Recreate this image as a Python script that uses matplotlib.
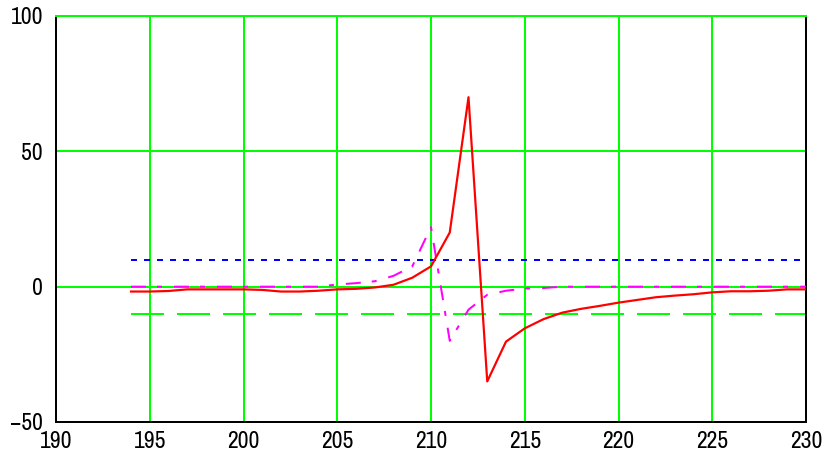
import matplotlib
matplotlib.use("Agg")
import matplotlib.pyplot as plt

plt.rcParams['font.family'] = ['Archivo Narrow', 'Liberation Sans', 'DejaVu Sans']
plt.rcParams['lines.scale_dashes'] = False

# Sample positions
x = list(range(194, 231))

# Response curve (red)
response = [-1.8, -1.8, -1.6, -1.0, -1.0, -1.0, -1.0, -1.2, -1.8, -1.8,
            -1.5, -1.0, -0.8, -0.3, 0.7, 3.3, 7.5, 20.0, 70.0, -35.0,
            -20.3, -15.4, -12.0, -9.6, -8.2, -7.1, -5.9, -4.9, -3.9, -3.3,
            -2.8, -2.1, -1.7, -1.7, -1.5, -1.0, -1.0]

# Derivative-like curve (magenta)
deriv = [0.0, 0.0, 0.0, 0.0, 0.0, 0.0, 0.0, 0.0, 0.0, 0.0,
         0.0, 0.8, 1.3, 2.0, 4.0, 7.5, 22.0, -20.0, -8.5, -3.0,
         -1.5, -0.7, -0.5, 0.0, 0.0, 0.0, 0.0, 0.0, 0.0, 0.0,
         0.0, 0.0, 0.0, 0.0, 0.0, 0.0, 0.0]

# Threshold levels
upper_level = 10
lower_level = -10

x_ticks = [190, 195, 200, 205, 210, 215, 220, 225, 230]
y_ticks = [-50, 0, 50, 100]

PX = 72 / 100.0  # points per pixel at 100 dpi

fig = plt.figure(figsize=(8.25, 4.55), dpi=100)
ax = fig.add_axes([56 / 825, 1 - 422 / 455, 750 / 825, 406 / 455])

green = '#00ff00'
ax.set_xlim(190, 230)
ax.set_ylim(-50, 100)
ax.set_xticks(x_ticks)
ax.set_yticks(y_ticks)
ax.grid(True, color=green, linewidth=2 * PX, zorder=0)
ax.set_axisbelow(True)

ax.plot([x[0], x[-1]], [upper_level, upper_level], color='#0000ff',
        linewidth=2 * PX, dashes=(6 * PX, 7 * PX), zorder=2)
ax.plot([x[0], x[-1]], [lower_level, lower_level], color=green,
        linewidth=2 * PX, dashes=(33 * PX, 13 * PX), zorder=2)
ax.plot(x, deriv, color='#ff00ff', linewidth=2 * PX,
        dashes=(15 * PX, 11 * PX, 5 * PX, 12 * PX), zorder=3)
ax.plot(x, response, color='#ff0000', linewidth=2.2 * PX, zorder=4)

for side in ('left', 'bottom', 'right'):
    ax.spines[side].set_color('black')
    ax.spines[side].set_linewidth(2 * PX)
ax.spines['top'].set_color(green)
ax.spines['top'].set_linewidth(2 * PX)

ax.tick_params(axis='both', length=0, labelsize=17, colors='black')
ax.tick_params(axis='y', pad=13 * PX)
ax.tick_params(axis='x', pad=9 * PX)
ax.set_yticklabels([str(v).replace('-', '\u2212') for v in y_ticks])

fig.savefig('out.png', dpi=100, facecolor='white')
